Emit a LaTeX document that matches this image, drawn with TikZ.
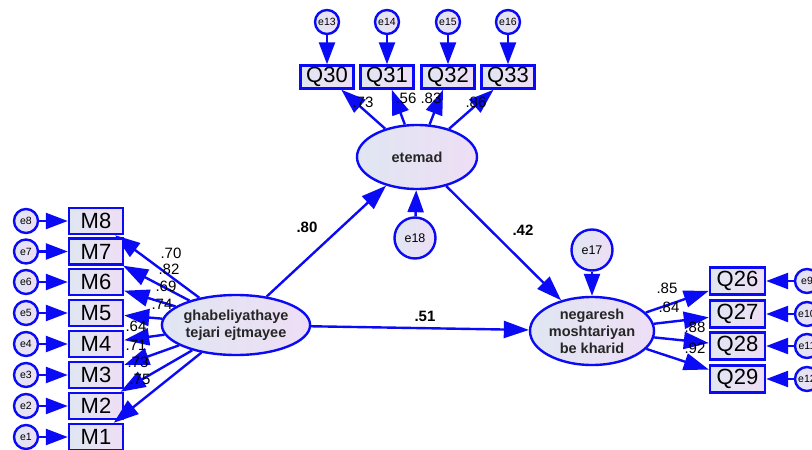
\documentclass[tikz,border=0pt]{standalone}
\usepackage{fontspec}
\setmainfont{Liberation Sans}
\usetikzlibrary{arrows.meta,shapes.geometric}
\definecolor{amosblue}{RGB}{10,10,245}
\definecolor{fillL}{RGB}{224,230,242}
\definecolor{fillR}{RGB}{238,222,245}
\begin{document}
\begin{tikzpicture}[x=1pt,y=-1pt,
  every node/.style={inner sep=0pt},
  obs/.style={draw=amosblue, line width=2.4pt, left color=fillL, right color=fillR,
    minimum width=54pt, minimum height=26pt, font=\fontsize{22}{22}\selectfont},
  obst/.style={obs, minimum width=53pt, minimum height=23pt},
  lat/.style={ellipse, draw=amosblue, line width=2.4pt, left color=fillL, right color=fillR,
    font=\bfseries\fontsize{14.5}{17}\selectfont, align=center, text=black!85},
  err/.style={circle, draw=amosblue, line width=2.4pt, left color=fillL, right color=fillR,
    minimum size=24pt, font=\fontsize{10.5}{10.5}\selectfont},
  bigerr/.style={err, minimum size=41pt, font=\fontsize{12.5}{12.5}\selectfont},
  arr/.style={draw=amosblue, line width=2.4pt, -{Triangle[length=25pt,width=17pt]}},
  earr/.style={arr, -{Triangle[length=22pt,width=16pt]}},
  lbl/.style={font=\fontsize{15}{15}\selectfont},
  blbl/.style={font=\bfseries\fontsize{15}{15}\selectfont}
]
\useasboundingbox (0,0) rectangle (812,450);

% latent variables
\node[lat, minimum width=124pt, minimum height=60pt] (G) at (236,325) {ghabeliyathaye\\tejari ejtmayee};
\node[lat, minimum width=120pt, minimum height=64pt] (E) at (417,157) {etemad};
\node[lat, minimum width=124pt, minimum height=68pt] (N) at (592,331) {negaresh\\moshtariyan\\be kharid};

% structural errors
\node[bigerr] (e18) at (415,238) {e18};
\node[bigerr] (e17) at (592,250) {e17};

% left indicators
\foreach \i/\y in {8/221,7/251.5,6/282,5/313,4/344,3/375,2/406,1/437}{
  \node[obs] (M\i) at (96,\y) {M\i};
  \node[err] (e\i) at (26,\y) {e\i};
  \draw[earr] (e\i) -- (M\i);
  \draw[arr] (G) -- (M\i);
}

% top indicators
\foreach \q/\e/\x in {30/13/327,31/14/387,32/15/448,33/16/508}{
  \node[obst] (Q\q) at (\x,77) {Q\q};
  \node[err] (e\e) at (\x,22) {e\e};
  \draw[earr] (e\e) -- (Q\q);
  \draw[arr] (E) -- (Q\q);
}

% right indicators
\foreach \q/\e/\y in {26/9/281,27/10/314,28/11/346,29/12/379}{
  \node[obs, minimum width=55pt, minimum height=27pt] (Q\q) at (737.5,\y) {Q\q};
  \node[err] (e\e) at (807,\y) {e\e};
  \draw[earr] (e\e) -- (Q\q);
  \draw[arr] (N) -- (Q\q);
}

% structural paths
\draw[arr] (G) -- (E);
\draw[arr] (G) -- (N);
\draw[arr] (E) -- (N);
\draw[earr] (e18) -- (E);
\draw[earr] (e17) -- (N);

% loadings
\node[lbl] (l8) at (171,253) {.70};
\node[lbl] (l7) at (169,269) {.82};
\node[lbl] (l6) at (166,286) {.69};
\node[lbl] (l5) at (162,304) {.74};
\node[lbl] (l4) at (136,326) {.64};
\node[lbl] (l3) at (136,345) {.71};
\node[lbl] (l2) at (138,362) {.73};
\node[lbl] (l1) at (140,379) {.75};

\node[lbl] (l30) at (363,102) {.73};
\node[lbl] (l31) at (406,98) {.56};
\node[lbl] (l32) at (431,98) {.83};
\node[lbl] (l33) at (476,102) {.86};

\node[lbl] (l26) at (667,288) {.85};
\node[lbl] (l27) at (669,307) {.84};
\node[lbl] (l28) at (695,327) {.88};
\node[lbl] (l29) at (695,348) {.92};

\node[blbl] (lGE) at (307,227) {.80};
\node[blbl] (lEN) at (523,230) {.42};
\node[blbl] (lGN) at (425,316) {.51};
\end{tikzpicture}
\end{document}
